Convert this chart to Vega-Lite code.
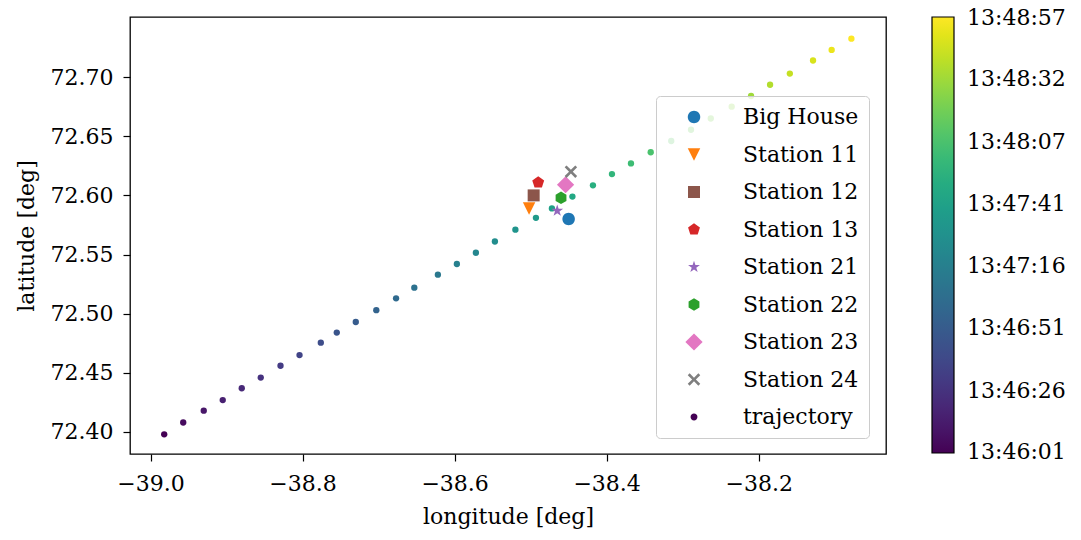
{
  "$schema": "https://vega.github.io/schema/vega-lite/v6.json",
  "width": 756,
  "height": 437,
  "autosize": {"type": "none"},
  "padding": {"left": 130, "top": 17, "right": 195, "bottom": 86},
  "background": "white",
  "config": {
    "font": "DejaVu Serif",
    "view": {"stroke": "black", "strokeWidth": 1.3},
    "axis": {"grid": false, "domain": false, "tickColor": "black", "tickSize": 7, "tickWidth": 1.2, "labelFontSize": 22, "labelColor": "black", "titleFontSize": 22, "titleFontWeight": "normal", "titleColor": "black", "labelFont": "DejaVu Serif", "titleFont": "DejaVu Serif"},
    "legend": {"labelFont": "DejaVu Serif", "labelColor": "black"}
  },
  "datasets": {
    "trajectory": [
      {"lon": -38.982, "lat": 72.398, "t_s": 49561.3},
      {"lon": -38.957, "lat": 72.408, "t_s": 49566.3},
      {"lon": -38.930, "lat": 72.418, "t_s": 49571.4},
      {"lon": -38.905, "lat": 72.427, "t_s": 49576.4},
      {"lon": -38.880, "lat": 72.437, "t_s": 49581.4},
      {"lon": -38.855, "lat": 72.446, "t_s": 49586.4},
      {"lon": -38.829, "lat": 72.456, "t_s": 49591.5},
      {"lon": -38.804, "lat": 72.465, "t_s": 49596.5},
      {"lon": -38.776, "lat": 72.4755, "t_s": 49601.5},
      {"lon": -38.755, "lat": 72.484, "t_s": 49606.6},
      {"lon": -38.730, "lat": 72.493, "t_s": 49611.6},
      {"lon": -38.703, "lat": 72.503, "t_s": 49616.6},
      {"lon": -38.677, "lat": 72.513, "t_s": 49621.6},
      {"lon": -38.653, "lat": 72.522, "t_s": 49626.7},
      {"lon": -38.622, "lat": 72.533, "t_s": 49631.7},
      {"lon": -38.597, "lat": 72.542, "t_s": 49636.7},
      {"lon": -38.572, "lat": 72.5515, "t_s": 49641.8},
      {"lon": -38.547, "lat": 72.561, "t_s": 49646.8},
      {"lon": -38.520, "lat": 72.571, "t_s": 49651.8},
      {"lon": -38.493, "lat": 72.581, "t_s": 49656.8},
      {"lon": -38.472, "lat": 72.589, "t_s": 49661.9},
      {"lon": -38.445, "lat": 72.599, "t_s": 49666.9},
      {"lon": -38.418, "lat": 72.6085, "t_s": 49671.9},
      {"lon": -38.393, "lat": 72.618, "t_s": 49677.0},
      {"lon": -38.368, "lat": 72.627, "t_s": 49682.0},
      {"lon": -38.342, "lat": 72.6365, "t_s": 49687.0},
      {"lon": -38.315, "lat": 72.646, "t_s": 49692.0},
      {"lon": -38.289, "lat": 72.6555, "t_s": 49697.1},
      {"lon": -38.263, "lat": 72.665, "t_s": 49702.1},
      {"lon": -38.2355, "lat": 72.675, "t_s": 49707.1},
      {"lon": -38.210, "lat": 72.684, "t_s": 49712.2},
      {"lon": -38.185, "lat": 72.6935, "t_s": 49717.2},
      {"lon": -38.159, "lat": 72.703, "t_s": 49722.2},
      {"lon": -38.1285, "lat": 72.714, "t_s": 49727.2},
      {"lon": -38.104, "lat": 72.723, "t_s": 49732.3},
      {"lon": -38.078, "lat": 72.7325, "t_s": 49737.3}
    ],
    "stations": [
      {"name": "Big House", "lon": -38.450, "lat": 72.580},
      {"name": "Station 11", "lon": -38.502, "lat": 72.589},
      {"name": "Station 12", "lon": -38.496, "lat": 72.600},
      {"name": "Station 13", "lon": -38.490, "lat": 72.611},
      {"name": "Station 21", "lon": -38.465, "lat": 72.587},
      {"name": "Station 22", "lon": -38.460, "lat": 72.598},
      {"name": "Station 23", "lon": -38.454, "lat": 72.609},
      {"name": "Station 24", "lon": -38.447, "lat": 72.620}
    ]
  },
  "encoding": {
    "x": {"field": "lon", "type": "quantitative", "scale": {"domain": [-39.027, -38.0325], "nice": false, "zero": false},
      "axis": {"title": "longitude [deg]", "values": [-39, -38.8, -38.6, -38.4, -38.2], "labelExpr": "replace(format(datum.value, '.1f'), '-', '−')", "labelPadding": 12, "titlePadding": 12}},
    "y": {"field": "lat", "type": "quantitative", "scale": {"domain": [72.3814, 72.7508], "nice": false, "zero": false},
      "axis": {"title": "latitude [deg]", "values": [72.4, 72.45, 72.5, 72.55, 72.6, 72.65, 72.7], "format": ".2f", "labelPadding": 10, "titlePadding": 12}}
  },
  "layer": [
    {
      "data": {"name": "trajectory"},
      "mark": {"type": "point", "filled": true, "shape": "circle", "size": 40, "opacity": 1},
      "encoding": {
        "color": {"field": "t_s", "type": "quantitative",
          "scale": {"scheme": "viridis", "domain": [49561.3, 49737.3], "nice": false, "zero": false},
          "legend": {"orient": "right", "offset": 46, "title": null, "direction": "vertical", "gradientLength": 436, "gradientThickness": 22, "gradientStrokeColor": "black", "gradientStrokeWidth": 1.2,
            "values": [49561.6, 49586.44, 49611.59, 49636.73, 49661.87, 49687.01, 49712.16, 49737.0],
            "labelExpr": "utcFormat(datum.value * 1000, '%H:%M:%S')", "labelFontSize": 22, "labelOffset": 13, "labelOverlap": false}
        }
      }
    },
    {
      "data": {"name": "stations"},
      "mark": {"type": "point", "filled": true, "size": 156, "opacity": 1, "strokeWidth": 0},
      "encoding": {
        "color": {"field": "name", "type": "nominal",
          "scale": {"domain": ["Big House", "Station 11", "Station 12", "Station 13", "Station 21", "Station 22", "Station 23", "Station 24", "trajectory"],
            "range": ["#1f77b4", "#ff7f0e", "#8c564b", "#d62728", "#9467bd", "#2ca02c", "#e377c2", "#7f7f7f", "#440154"]},
          "legend": {"orient": "none", "legendX": 526, "legendY": 79, "title": null, "fillColor": "rgba(255,255,255,0.8)", "strokeColor": "#cccccc", "cornerRadius": 4, "padding": 10, "symbolSize": 156, "symbolStrokeWidth": 0, "labelFontSize": 22, "rowPadding": 15.5, "symbolOffset": 17, "labelOffset": 38}},
        "shape": {"field": "name", "type": "nominal",
          "scale": {"domain": ["Big House", "Station 11", "Station 12", "Station 13", "Station 21", "Station 22", "Station 23", "Station 24", "trajectory"],
            "range": [
              "M1,0A1,1,0,1,1,-1,0A1,1,0,1,1,1,0Z",
              "M-1,-1L1,-1L0,1Z",
              "M-0.96,-0.96L0.96,-0.96L0.96,0.96L-0.96,0.96Z",
              "M0,-1L0.951,-0.309L0.588,0.809L-0.588,0.809L-0.951,-0.309Z",
              "M0,-1L0.2245,-0.309L0.951,-0.309L0.363,0.118L0.588,0.809L0,0.382L-0.588,0.809L-0.363,0.118L-0.951,-0.309L-0.2245,-0.309Z",
              "M0,-1L0.866,-0.5L0.866,0.5L0,1L-0.866,0.5L-0.866,-0.5Z",
              "M0,-1.38L1.38,0L0,1.38L-1.38,0Z",
              "M-1,-0.7L-0.7,-1L0,-0.3L0.7,-1L1,-0.7L0.3,0L1,0.7L0.7,1L0,0.3L-0.7,1L-1,0.7L-0.3,0Z",
              "M0.55,0A0.55,0.55,0,1,1,-0.55,0A0.55,0.55,0,1,1,0.55,0Z"
            ]},
          "legend": {"orient": "none", "legendX": 526, "legendY": 79, "title": null, "fillColor": "rgba(255,255,255,0.8)", "strokeColor": "#cccccc", "cornerRadius": 4, "padding": 10, "symbolSize": 156, "symbolStrokeWidth": 0, "labelFontSize": 22, "rowPadding": 15.5, "symbolOffset": 17, "labelOffset": 38}}
      }
    }
  ],
  "resolve": {"scale": {"color": "independent", "shape": "independent"}, "legend": {"color": "independent", "shape": "independent"}}
}
